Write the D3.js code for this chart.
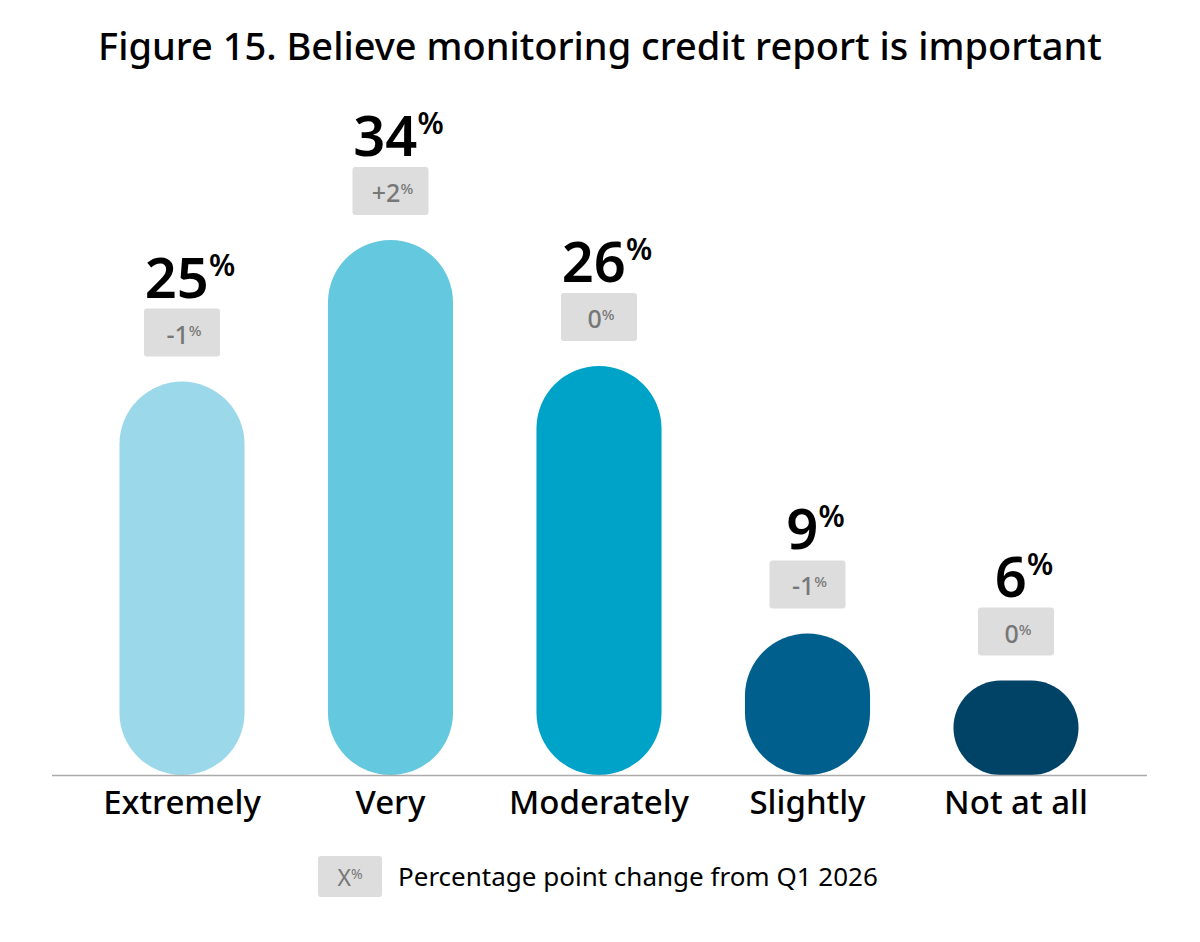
<!DOCTYPE html>
<html>
<head>
<meta charset="utf-8">
<script src="https://cdn.jsdelivr.net/npm/d3@7"></script>
<style>
	body{margin:0;background:#fff;}
	svg{font-family:"Noto Sans",sans-serif;}
</style>
</head>
<body>
<svg id="chart" width="1200" height="942"></svg>
<script>
// data
var categories = ["Extremely", "Very", "Moderately", "Slightly", "Not at all"];
var values = [25, 34, 26, 9, 6];
var changes = ["-1", "+2", "0", "-1", "0"];
var colors = ["#9bd9ea", "#64c8de", "#00a3c8", "#005f8d", "#004366"];

var svg = d3.select("#chart");
var baseline = 775;

var x = d3.scaleBand()
	.domain(categories)
	.range([77.75, 1120.25])
	.paddingInner(0.4)
	.paddingOuter(0.2);

var y = d3.scaleLinear()
	.domain([0, 34])
	.range([baseline, 240]);

// title
svg.append("text")
	.attr("x", 600).attr("y", 60)
	.attr("text-anchor", "middle")
	.style("font-size", "38px").style("font-weight", 500)
	.text("Figure 15. Believe monitoring credit report is important");

var bw = x.bandwidth();
var g = svg.selectAll("g.bar").data(categories).enter()
	.append("g").attr("class", "bar")
	.attr("transform", function(d){ return "translate(" + x(d) + ",0)"; });

g.append("rect")
	.attr("x", 0)
	.attr("width", bw)
	.attr("y", function(d, i){ return y(values[i]); })
	.attr("height", function(d, i){ return baseline - y(values[i]); })
	.attr("rx", function(d, i){ return Math.min(bw / 2, (baseline - y(values[i])) / 2); })
	.attr("ry", function(d, i){ return Math.min(bw / 2, (baseline - y(values[i])) / 2); })
	.attr("fill", function(d, i){ return colors[i]; });

// value labels
var vl = g.append("text")
	.attr("x", bw / 2 + 8)
	.attr("y", function(d, i){ return y(values[i]) - 84; })
	.attr("text-anchor", "middle")
	.style("font-size", "56px").style("font-weight", 600);
vl.append("tspan").text(function(d, i){ return values[i]; });
vl.append("tspan").attr("dy", -22).style("font-size", "30px").text("%");

// change boxes
g.append("rect")
	.attr("x", bw / 2 - 38)
	.attr("y", function(d, i){ return y(values[i]) - 73; })
	.attr("width", 76).attr("height", 48).attr("rx", 3)
	.attr("fill", "#dddddd");
var cl = g.append("text")
	.attr("x", bw / 2 + 2)
	.attr("y", function(d, i){ return y(values[i]) - 38; })
	.attr("text-anchor", "middle")
	.attr("fill", "#777")
	.style("font-size", "25px").style("font-weight", 500);
cl.append("tspan").text(function(d, i){ return changes[i]; });
cl.append("tspan").attr("dy", -8).style("font-size", "15px").text("%");

// axis line
svg.append("line")
	.attr("x1", 52).attr("x2", 1147)
	.attr("y1", baseline + 0.5).attr("y2", baseline + 0.5)
	.attr("stroke", "#aaa").attr("stroke-width", 1.5);

// category labels
var xAxis = svg.append("g").attr("transform", "translate(0," + baseline + ")")
	.call(d3.axisBottom(x).tickSize(0).tickPadding(16));
xAxis.select(".domain").remove();
xAxis.selectAll("text")
	.attr("fill", "#000")
	.style("font-family", "'Noto Sans',sans-serif")
	.style("font-size", "33px").style("font-weight", 500);

// legend
svg.append("rect")
	.attr("x", 318).attr("y", 856).attr("width", 64).attr("height", 41).attr("rx", 3)
	.attr("fill", "#dddddd");
var lt = svg.append("text")
	.attr("x", 350).attr("y", 886).attr("text-anchor", "middle")
	.attr("fill", "#777").style("font-size", "23px");
lt.append("tspan").text("X");
lt.append("tspan").attr("dy", -7).style("font-size", "14px").text("%");
svg.append("text")
	.attr("x", 398).attr("y", 886)
	.style("font-size", "26px")
	.text("Percentage point change from Q1 2026");
</script>
</body>
</html>
